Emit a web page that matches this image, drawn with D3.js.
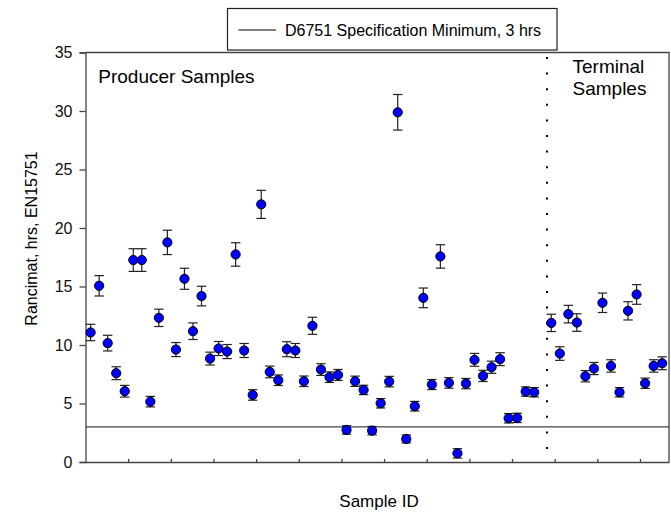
<!DOCTYPE html>
<html>
<head>
  <meta charset="utf-8">
  <script src="https://d3js.org/d3.v7.min.js"></script>
  <style>
    body { margin: 0; background: #fff; }
    svg { display: block; font-family: "Liberation Sans", Arial, sans-serif; }
    .frame { fill: none; stroke: #444; stroke-width: 1.3px; }
    .axis path, .axis line { stroke: #444; stroke-width: 1.3px; }
    .axis text { font-size: 16px; fill: #111; }
    .err { stroke: #222; stroke-width: 1.2px; fill: none; }
    .dot { fill: #0000ff; stroke: #000; stroke-width: 1px; }
  </style>
</head>
<body>
<div id="chart"></div>
<script>

// Rancimat induction period (hrs) with error bars
var producerValues = [11.07, 15.06, 10.16, 7.59, 6.05, 17.26, 17.26, 5.16, 12.32, 18.77,
                      9.61, 15.66, 11.18, 14.18, 8.84, 9.70, 9.44, 17.74, 9.53, 5.73,
                      22.02, 7.70, 6.99, 9.64, 9.53, 6.90, 11.64, 7.90, 7.25, 7.44,
                      2.74, 6.90, 6.16, 2.68, 5.02, 6.87, 29.89, 1.97, 4.77, 14.03,
                      6.62, 17.57, 6.76, 0.74, 6.70, 8.73, 7.36, 8.10, 8.79, 3.74,
                      3.77, 6.02, 5.96];
var producerErrors = [0.70, 0.87, 0.67, 0.55, 0.50, 0.97, 0.97, 0.45, 0.74, 1.04,
                      0.60, 0.90, 0.71, 0.84, 0.55, 0.60, 0.60, 1.00, 0.60, 0.45,
                      1.20, 0.50, 0.45, 0.64, 0.60, 0.45, 0.73, 0.50, 0.45, 0.47,
                      0.36, 0.44, 0.40, 0.36, 0.40, 0.45, 1.52, 0.34, 0.41, 0.84,
                      0.43, 1.00, 0.45, 0.40, 0.44, 0.55, 0.48, 0.52, 0.55, 0.40,
                      0.40, 0.40, 0.40];
var terminalValues = [11.89, 9.27, 12.64, 11.92, 7.33, 7.99, 13.61, 8.21, 5.96, 12.92,
                      14.32, 6.73, 8.21, 8.44];
var terminalErrors = [0.74, 0.58, 0.75, 0.75, 0.48, 0.52, 0.83, 0.53, 0.40, 0.78,
                      0.84, 0.44, 0.53, 0.55];
var yTicks = [0, 5, 10, 15, 20, 25, 30, 35];
var specMinimum = 3;
var legendLabel = "D6751 Specification Minimum, 3 hrs";

var W = 671, H = 512;
var margin = {top: 52.5, right: 2, bottom: 50, left: 85.5};

// one slot per sample, with an empty slot between the two groups
var points = [];
producerValues.forEach(function(v, i) {
  points.push({slot: i + 1, value: v, err: producerErrors[i]});
});
terminalValues.forEach(function(v, i) {
  points.push({slot: producerValues.length + 2 + i, value: v, err: terminalErrors[i]});
});
var dividerSlot = producerValues.length + 1.5;

var x = d3.scaleLinear().domain([0.4, 68.8]).range([margin.left, W - margin.right]);
var y = d3.scaleLinear().domain([0, 35]).range([H - margin.bottom, margin.top]);

var svg = d3.select("#chart").append("svg")
  .attr("width", W)
  .attr("height", H);

// spec minimum line
svg.append("line")
  .attr("x1", x(0.4)).attr("x2", x(68.8))
  .attr("y1", y(specMinimum)).attr("y2", y(specMinimum))
  .attr("stroke", "#444").attr("stroke-width", 1.3);

// dotted divider between producer and terminal samples
svg.append("line")
  .attr("x1", x(dividerSlot)).attr("x2", x(dividerSlot))
  .attr("y1", y(35) + 4.5).attr("y2", y(0))
  .attr("stroke", "#000").attr("stroke-width", 2)
  .attr("stroke-dasharray", "2,13.6");

// frame top / right
svg.append("path")
  .attr("class", "frame")
  .attr("d", "M" + x(0.4) + "," + y(35) + "H" + x(68.8) + "V" + y(0));

// axes
svg.append("g")
  .attr("class", "axis")
  .attr("transform", "translate(" + margin.left + ",0)")
  .call(d3.axisLeft(y).tickValues(yTicks).tickSizeOuter(0).tickSize(6).tickPadding(7));

svg.append("g")
  .attr("class", "axis")
  .attr("transform", "translate(0," + y(0) + ")")
  .call(d3.axisBottom(x).tickValues(d3.range(5.4, 68, 5)).tickSizeOuter(0).tickSizeInner(-3).tickFormat(""));

// error bars
var eb = svg.append("g");
points.forEach(function(d) {
  var cx = x(d.slot), hw = 4.7;
  eb.append("line").attr("class", "err")
    .attr("x1", cx).attr("x2", cx)
    .attr("y1", y(d.value - d.err)).attr("y2", y(d.value + d.err));
  eb.append("line").attr("class", "err")
    .attr("x1", cx - hw).attr("x2", cx + hw)
    .attr("y1", y(d.value + d.err)).attr("y2", y(d.value + d.err));
  eb.append("line").attr("class", "err")
    .attr("x1", cx - hw).attr("x2", cx + hw)
    .attr("y1", y(d.value - d.err)).attr("y2", y(d.value - d.err));
});

svg.selectAll(".dot")
  .data(points)
  .enter().append("circle")
  .attr("class", "dot")
  .attr("cx", function(d) { return x(d.slot); })
  .attr("cy", function(d) { return y(d.value); })
  .attr("r", 4.6);

// group labels
svg.append("text")
  .attr("x", 98.3).attr("y", 83.3)
  .style("font-size", "19px")
  .text("Producer Samples");

var term = svg.append("text")
  .attr("x", 572.5).attr("y", 73.3)
  .style("font-size", "19px");
term.append("tspan").attr("x", 572.5).text("Terminal");
term.append("tspan").attr("x", 572.5).attr("dy", 21.4).text("Samples");

// axis titles
svg.append("text")
  .attr("transform", "translate(36.5," + 238.5 + ") rotate(-90)")
  .style("text-anchor", "middle")
  .style("font-size", "16px")
  .text("Rancimat, hrs, EN15751");

svg.append("text")
  .attr("x", 379).attr("y", 507)
  .style("text-anchor", "middle")
  .style("font-size", "17px")
  .text("Sample ID");

// legend
svg.append("rect")
  .attr("x", 227.5).attr("y", 8.5)
  .attr("width", 329.5).attr("height", 41.5)
  .attr("fill", "#fff").attr("stroke", "#222").attr("stroke-width", 1.2);
svg.append("line")
  .attr("x1", 238.5).attr("x2", 276)
  .attr("y1", 30).attr("y2", 30)
  .attr("stroke", "#000").attr("stroke-width", 1.2);
svg.append("text")
  .attr("x", 285).attr("y", 35.5)
  .style("font-size", "16px")
  .text(legendLabel);

</script>
</body>
</html>
